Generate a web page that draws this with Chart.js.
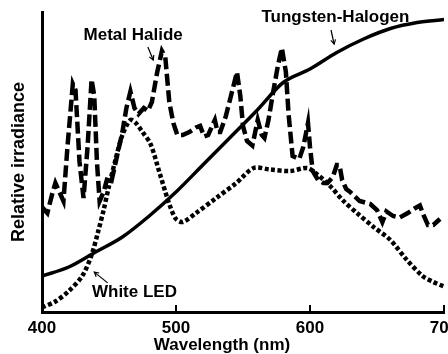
<!DOCTYPE html>
<html>
<head>
<meta charset="utf-8">
<script src="https://cdn.jsdelivr.net/npm/chart.js@4/dist/chart.umd.min.js"></script>
<style>
  html, body { margin: 0; padding: 0; background: #fff; }
  canvas { display: block; }
</style>
</head>
<body>
<canvas id="myChart" width="448" height="354"></canvas>
<script>
'use strict';

// wavelength (nm) / relative irradiance
var halogenNm = [400, 420, 440, 460, 480, 500, 520, 540, 560, 580, 600, 620, 640, 660, 680, 700];
var halogenVal = [0.12, 0.15, 0.20, 0.25, 0.32, 0.40, 0.49, 0.58, 0.67, 0.765, 0.81, 0.865, 0.91, 0.945, 0.965, 0.975];

var ledNm = [400, 410, 420, 430, 437, 442, 446, 450, 455, 460, 466, 470, 475, 481, 488, 495, 500, 505, 515, 530, 545, 558, 570, 585, 598, 605, 615, 625, 635, 647, 660, 672, 684, 692, 700];
var ledVal = [0.015, 0.035, 0.07, 0.12, 0.19, 0.27, 0.34, 0.42, 0.51, 0.59, 0.64, 0.63, 0.60, 0.56, 0.46, 0.36, 0.31, 0.30, 0.33, 0.38, 0.43, 0.48, 0.475, 0.47, 0.48, 0.46, 0.42, 0.37, 0.33, 0.285, 0.24, 0.175, 0.12, 0.10, 0.085];

var halideNm = [400, 404, 408, 410, 413, 416, 419, 423, 425, 428, 431, 434, 437, 439, 441, 443, 446, 449, 452, 456, 460, 463, 466, 469, 472, 476, 479, 482, 486, 489.5, 492, 495, 498, 501, 505, 510, 515, 518, 521, 524, 529, 531, 533, 537, 541, 545.5, 548, 550, 553, 557, 561, 564, 566, 569, 572, 576, 579, 582, 584, 587, 592, 595, 598.5, 600, 602, 606, 610, 613, 617, 620, 622, 624, 627, 630, 637, 645, 650, 654, 657, 662, 667, 673, 678, 682, 685, 688, 692, 697];
var halideVal = [0.35, 0.33, 0.40, 0.43, 0.40, 0.37, 0.55, 0.76, 0.74, 0.50, 0.38, 0.55, 0.775, 0.72, 0.50, 0.37, 0.40, 0.45, 0.44, 0.52, 0.60, 0.68, 0.735, 0.68, 0.66, 0.68, 0.67, 0.70, 0.80, 0.87, 0.85, 0.70, 0.63, 0.59, 0.59, 0.60, 0.615, 0.62, 0.585, 0.59, 0.64, 0.60, 0.60, 0.65, 0.72, 0.80, 0.72, 0.62, 0.57, 0.555, 0.64, 0.59, 0.58, 0.64, 0.72, 0.82, 0.88, 0.80, 0.66, 0.52, 0.51, 0.55, 0.63, 0.55, 0.47, 0.44, 0.43, 0.43, 0.45, 0.49, 0.49, 0.44, 0.41, 0.40, 0.37, 0.36, 0.34, 0.30, 0.335, 0.32, 0.315, 0.33, 0.345, 0.355, 0.32, 0.29, 0.29, 0.31];

var xTicks = [400, 500, 600, 700];

// labels with their arrows, in data units (nm, irradiance)
var notes = [
    { text: 'Metal Halide', x: 468, y: 0.923, from: [479, 0.883], to: [483, 0.84] },
    { text: 'Tungsten-Halogen', x: 619, y: 0.983, from: [615.7, 0.94], to: [618, 0.893] },
    { text: 'White LED', x: 469, y: 0.067, from: [449, 0.097], to: [439, 0.133] }
];

function toPoints(xs, ys) {
    var pts = [];
    for (var i = 0; i < xs.length; i++) {
        pts.push({ x: xs[i], y: ys[i] });
    }
    return pts;
}

var FONT = '"Liberation Sans", Arial, sans-serif';

var extras = {
    id: 'extras',
    afterDatasetsDraw: function (chart) {
        var ctx = chart.ctx;
        var xs = chart.scales.x;
        var ys = chart.scales.y;
        var bottom = chart.chartArea.bottom;
        ctx.save();
        // inward tick marks
        ctx.strokeStyle = '#000';
        ctx.lineWidth = 2;
        for (var i = 1; i < xTicks.length; i++) {
            var px = xs.getPixelForValue(xTicks[i]);
            ctx.beginPath();
            ctx.moveTo(px, bottom);
            ctx.lineTo(px, bottom - 7);
            ctx.stroke();
        }
        // labels + arrows
        ctx.fillStyle = '#000';
        ctx.font = 'bold 17px ' + FONT;
        ctx.textAlign = 'center';
        ctx.textBaseline = 'middle';
        notes.forEach(function (n) {
            ctx.fillText(n.text, xs.getPixelForValue(n.x), ys.getPixelForValue(n.y));
            var x1 = xs.getPixelForValue(n.from[0]), y1 = ys.getPixelForValue(n.from[1]);
            var x2 = xs.getPixelForValue(n.to[0]), y2 = ys.getPixelForValue(n.to[1]);
            ctx.lineWidth = 1.2;
            ctx.beginPath();
            ctx.moveTo(x1, y1);
            ctx.lineTo(x2, y2);
            ctx.stroke();
            var a = Math.atan2(y2 - y1, x2 - x1);
            ctx.beginPath();
            ctx.moveTo(x2 - 5 * Math.cos(a - 0.5), y2 - 5 * Math.sin(a - 0.5));
            ctx.lineTo(x2, y2);
            ctx.lineTo(x2 - 5 * Math.cos(a + 0.5), y2 - 5 * Math.sin(a + 0.5));
            ctx.stroke();
        });
        ctx.restore();
    }
};

var ctx = document.getElementById('myChart').getContext('2d');
var chart = new Chart(ctx, {
    type: 'line',
    data: {
        datasets: [{
            label: 'Tungsten-Halogen',
            data: toPoints(halogenNm, halogenVal),
            borderColor: '#000',
            borderWidth: 3.5,
            cubicInterpolationMode: 'monotone',
            pointRadius: 0
        }, {
            label: 'White LED',
            data: toPoints(ledNm, ledVal),
            borderColor: '#000',
            borderWidth: 4.5,
            borderDash: [4, 2.5],
            tension: 0.3,
            pointRadius: 0
        }, {
            label: 'Metal Halide',
            data: toPoints(halideNm, halideVal),
            borderColor: '#000',
            borderWidth: 4.5,
            borderDash: [12, 4.5],
            tension: 0,
            pointRadius: 0
        }]
    },
    options: {
        responsive: false,
        animation: false,
        layout: { padding: { top: 12, right: 4, left: 0, bottom: 0 } },
        plugins: {
            legend: { display: false },
            tooltip: { enabled: false },
            title: {
                display: true,
                position: 'bottom',
                text: 'Wavelength (nm)',
                color: '#000',
                font: { family: FONT, size: 17, weight: 'bold', lineHeight: 1.0 },
                padding: { top: 0, bottom: 0 }
            }
        },
        scales: {
            x: {
                type: 'linear',
                min: 400,
                max: 700,
                afterBuildTicks: function (s) {
                    s.ticks = xTicks.map(function (v) { return { value: v }; });
                },
                afterFit: function (s) {
                    s.paddingLeft = 0;
                    s.paddingRight = 0;
                    s.height = 25;
                },
                grid: { display: false, drawTicks: false },
                border: { display: true, color: '#000', width: 3 },
                ticks: {
                    color: '#000',
                    padding: 8,
                    maxRotation: 0,
                    font: { family: FONT, size: 17, weight: 'bold', lineHeight: 1.0 }
                }
            },
            y: {
                min: 0,
                max: 1,
                afterFit: function (s) {
                    s.width = 42;
                },
                grid: { display: false, drawTicks: false },
                border: { display: true, color: '#000', width: 3 },
                ticks: { display: false },
                title: {
                    display: true,
                    text: 'Relative irradiance',
                    color: '#000',
                    font: { family: FONT, size: 18, weight: 'bold' },
                    padding: { top: 8, bottom: 12 }
                }
            }
        }
    },
    plugins: [extras]
});
</script>
</body>
</html>
